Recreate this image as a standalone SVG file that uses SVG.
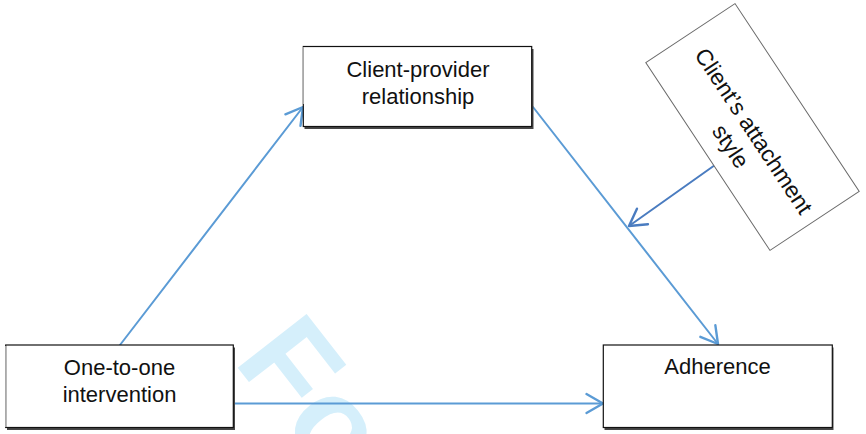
<svg xmlns="http://www.w3.org/2000/svg" width="866" height="434" viewBox="0 0 866 434">
  <style>
    .box { fill: #ffffff; stroke: #111111; stroke-width: 1.2; }
    .shadow { fill: #464646; }
    .edge { stroke: #b8b8b8; stroke-width: 1.2; }
    .label { font-family: "Liberation Sans", Arial, sans-serif; font-size: 22px; fill: #111111; text-anchor: middle; }
    .link { fill: none; stroke: #5b9bd5; stroke-width: 2; stroke-linecap: round; }
    .link.mod { stroke: #4a7cc0; }
    .mark { font-family: "Liberation Sans", Arial, sans-serif; font-weight: bold; font-size: 127px; fill: #d5effb; }
  </style>
  <defs>
    <marker id="head" markerUnits="userSpaceOnUse" orient="auto" overflow="visible" markerWidth="20" markerHeight="20" refX="0" refY="0">
      <path d="M-16.5,-9.5 L0,0 L-16.5,9.5" fill="none" stroke="#5b9bd5" stroke-width="2.4" stroke-linecap="round" stroke-linejoin="round"/>
    </marker>
    <marker id="headMod" markerUnits="userSpaceOnUse" orient="auto" overflow="visible" markerWidth="20" markerHeight="20" refX="0" refY="0">
      <path d="M-16.5,-9.5 L0,0 L-16.5,9.5" fill="none" stroke="#4a7cc0" stroke-width="2.4" stroke-linecap="round" stroke-linejoin="round"/>
    </marker>
  </defs>

  <rect x="0" y="0" width="866" height="434" fill="#ffffff"/>

  <!-- background watermark -->
  <text class="mark" transform="translate(232.5,361) rotate(52)">Fo</text>

  <!-- connectors -->
  <g id="connectors">
    <path class="link" d="M120,345 L303,107" marker-end="url(#head)"/>
    <path class="link" d="M533,107 L718,344" marker-end="url(#head)"/>
    <path class="link" d="M233,403.5 L603,403.5" marker-end="url(#head)"/>
    <path class="link mod" d="M715,165 L629,226" marker-end="url(#headMod)"/>
  </g>

  <!-- mediator -->
  <g id="client-provider-relationship">
    <rect class="shadow" x="304.5" y="49" width="229" height="80"/>
    <rect class="box" x="303.3" y="46.5" width="228.4" height="80"/>
    <line class="edge" x1="303.3" y1="47" x2="303.3" y2="104"/>
    <text class="label" x="418" y="76.5">Client-provider</text>
    <text class="label" x="418" y="103.5">relationship</text>
  </g>

  <!-- predictor -->
  <g id="one-to-one-intervention">
    <rect class="shadow" x="7" y="347.5" width="228" height="82.5"/>
    <rect class="box" x="5.7" y="345" width="227.6" height="82.5"/>
    <line class="edge" x1="5.7" y1="346" x2="5.7" y2="427"/>
    <text class="label" x="119.5" y="375">One-to-one</text>
    <text class="label" x="119.5" y="402">intervention</text>
  </g>

  <!-- outcome -->
  <g id="adherence">
    <rect class="shadow" x="604.5" y="347.5" width="229" height="82.5"/>
    <rect class="box" x="603.3" y="345" width="229" height="82.5"/>
    <text class="label" x="717.5" y="374">Adherence</text>
  </g>

  <!-- moderator -->
  <g id="attachment-style" transform="translate(752.5,127) rotate(56.5)">
    <rect x="-112.5" y="-53.5" width="225" height="107" fill="#ffffff" stroke="#6a6a6a" stroke-width="1"/>
    <text class="label" x="4" y="9" style="font-size:22.8px">Client’s attachment</text>
    <text class="label" x="4" y="36.5" style="font-size:22.8px">style</text>
  </g>
</svg>
